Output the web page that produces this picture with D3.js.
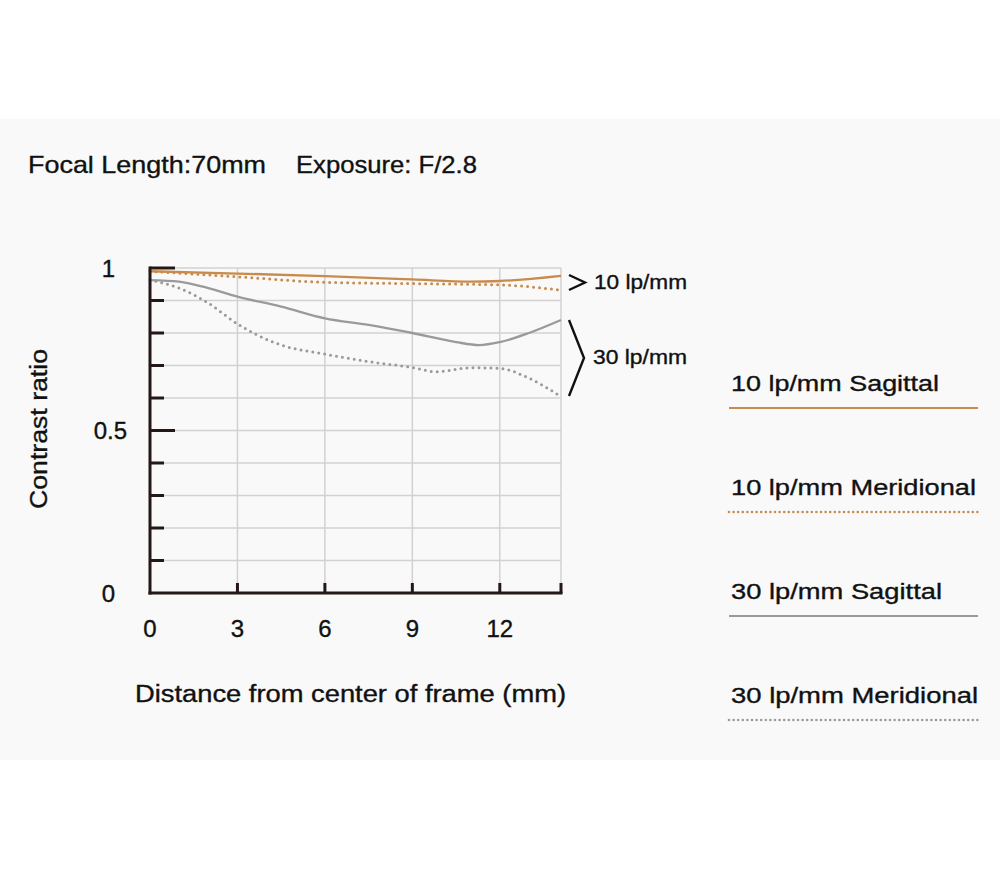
<!DOCTYPE html>
<html><head><meta charset="utf-8">
<script src="https://cdn.jsdelivr.net/npm/d3@7"></script>
<style>
html,body{margin:0;padding:0;background:#fff;}
svg{display:block;font-family:"Liberation Sans","DejaVu Sans",sans-serif;}
svg text{stroke:#111;stroke-width:0.35px;}
</style></head>
<body>
<svg id="c" width="1000" height="875"></svg>
<script>
// ---- data ----
const xTicks = [0, 3, 6, 9, 12];
const yTickLabels = ["0", "0.5", "1"];
const yTickValues = [0, 0.5, 1];
const xMax = 14.1;

const dist10S = [0, 3, 6, 9, 11, 12, 14.1];
const val10S  = [0.99, 0.983, 0.975, 0.965, 0.958, 0.96, 0.976];

const dist10M = [0, 3, 6, 9, 12, 14.1];
const val10M  = [0.99, 0.973, 0.956, 0.952, 0.948, 0.932];

const dist30S = [0, 1, 2, 3, 4.5, 6, 7.5, 9, 10.5, 11.3, 12, 13, 14.1];
const val30S  = [0.963, 0.958, 0.938, 0.912, 0.881, 0.845, 0.825, 0.80, 0.772, 0.763, 0.772, 0.80, 0.84];

const dist30M = [0, 1, 2, 3, 4.5, 6, 7.5, 9, 9.8, 11, 12, 13, 14.1];
const val30M  = [0.963, 0.938, 0.892, 0.828, 0.763, 0.735, 0.712, 0.694, 0.681, 0.693, 0.691, 0.661, 0.604];

const legendLabels = ["10 lp/mm Sagittal", "10 lp/mm Meridional", "30 lp/mm Sagittal", "30 lp/mm Meridional"];
const orange = "#c98b4c", grey = "#9a9a9a";

// ---- drawing ----
const svg = d3.select("#c");
svg.append("rect").attr("x",0).attr("y",119).attr("width",1000).attr("height",641).attr("fill","#f9f9f9");

const x = d3.scaleLinear().domain([0, xMax]).range([150, 561]);
const y = d3.scaleLinear().domain([0, 1]).range([593, 268]);

function fit(sel, w) {
  const n = sel.node();
  const cur = n.getComputedTextLength();
  if (Math.abs(cur - w) / w > 0.015) sel.attr("textLength", w).attr("lengthAdjust", "spacingAndGlyphs");
  return sel;
}

// grid
const g = svg.append("g");
d3.range(1, 11).forEach(i => {
  g.append("line").attr("x1", x(0)).attr("x2", x(xMax)).attr("y1", y(i/10)).attr("y2", y(i/10))
    .attr("stroke", "#d2d2d2").attr("stroke-width", 1.5);
});
[3, 6, 9, 12, xMax].forEach(v => {
  g.append("line").attr("x1", x(v)).attr("x2", x(v)).attr("y1", y(0)).attr("y2", y(1))
    .attr("stroke", "#d2d2d2").attr("stroke-width", 1.5);
});

// curves
const line = d3.line().x(d => x(d[0])).y(d => y(d[1])).curve(d3.curveMonotoneX);
function series(xs, vs, color, dotted) {
  const p = svg.append("path").datum(xs.map((d, i) => [d, vs[i]]))
    .attr("d", line).attr("fill", "none").attr("stroke", color);
  if (dotted) p.attr("stroke-width", 3).attr("stroke-dasharray", "0 6").attr("stroke-linecap", "round");
  else p.attr("stroke-width", 2.3);
}
series(dist30S, val30S, grey, false);
series(dist30M, val30M, grey, true);
series(dist10M, val10M, orange, true);
series(dist10S, val10S, orange, false);

// axes
const axC = "#231815";
svg.append("line").attr("x1", x(0)).attr("x2", x(0)).attr("y1", y(1) - 1.5).attr("y2", y(0) + 1.5)
  .attr("stroke", axC).attr("stroke-width", 3);
svg.append("line").attr("x1", x(0) - 1.5).attr("x2", x(xMax) + 1.5).attr("y1", y(0)).attr("y2", y(0))
  .attr("stroke", axC).attr("stroke-width", 3);
d3.range(1, 11).forEach(i => {
  const major = (i === 5 || i === 10);
  svg.append("line").attr("x1", x(0)).attr("x2", x(0) + (major ? 25 : 14))
    .attr("y1", y(i/10)).attr("y2", y(i/10)).attr("stroke", axC).attr("stroke-width", 3);
});
[3, 6, 9, 12, xMax].forEach(v => {
  svg.append("line").attr("x1", x(v)).attr("x2", x(v)).attr("y1", y(0)).attr("y2", y(0) - 10)
    .attr("stroke", axC).attr("stroke-width", 3);
});

// tick labels
const fs = 24;
xTicks.forEach(v => {
  svg.append("text").attr("x", x(v)).attr("y", 637).attr("text-anchor", "middle")
    .attr("font-size", fs).attr("fill", "#111").text(String(v));
});
yTickValues.forEach((v, i) => {
  svg.append("text").attr("x", v === 0.5 ? 127 : 115).attr("y", y(v) + 8.5).attr("text-anchor", "end")
    .attr("font-size", fs).attr("fill", "#111").text(yTickLabels[i]);
});

// titles
fit(svg.append("text").attr("x", 28).attr("y", 173).attr("font-size", 24).attr("fill", "#111").text("Focal Length:70mm"), 238);
fit(svg.append("text").attr("x", 296).attr("y", 173).attr("font-size", 24).attr("fill", "#111").text("Exposure: F/2.8"), 181);
fit(svg.append("text").attr("x", 135).attr("y", 702).attr("font-size", 23).attr("fill", "#111")
  .text("Distance from center of frame (mm)"), 431);
fit(svg.append("text").attr("transform", "translate(47,509) rotate(-90)")
  .attr("font-size", 23).attr("fill", "#111").text("Contrast ratio"), 160);

// brackets
svg.append("path").attr("d", "M569,275 L585,282.5 L569,290").attr("fill", "none").attr("stroke", "#111").attr("stroke-width", 2.4);
fit(svg.append("text").attr("x", 594).attr("y", 289).attr("font-size", 20).attr("fill", "#111").text("10 lp/mm"), 93);
svg.append("path").attr("d", "M569,320 L584,358 L569,396").attr("fill", "none").attr("stroke", "#111").attr("stroke-width", 2.4);
fit(svg.append("text").attr("x", 593).attr("y", 364).attr("font-size", 20).attr("fill", "#111").text("30 lp/mm"), 94);

// legend
const legColors = [orange, orange, grey, grey];
const legDotted = [false, true, false, true];
const legW = [208, 245, 211, 247];
legendLabels.forEach((lab, i) => {
  const by = 391 + i * 104;
  fit(svg.append("text").attr("x", 731).attr("y", by).attr("font-size", 22.5).attr("fill", "#111").text(lab), legW[i]);
  const l = svg.append("line").attr("x1", 729).attr("x2", 978).attr("y1", by + 17).attr("y2", by + 17)
    .attr("stroke", legColors[i]);
  if (legDotted[i]) l.attr("stroke-width", 2.6).attr("stroke-dasharray", "0 4.6").attr("stroke-linecap", "round");
  else l.attr("stroke-width", 2.2);
});
</script>
</body></html>
